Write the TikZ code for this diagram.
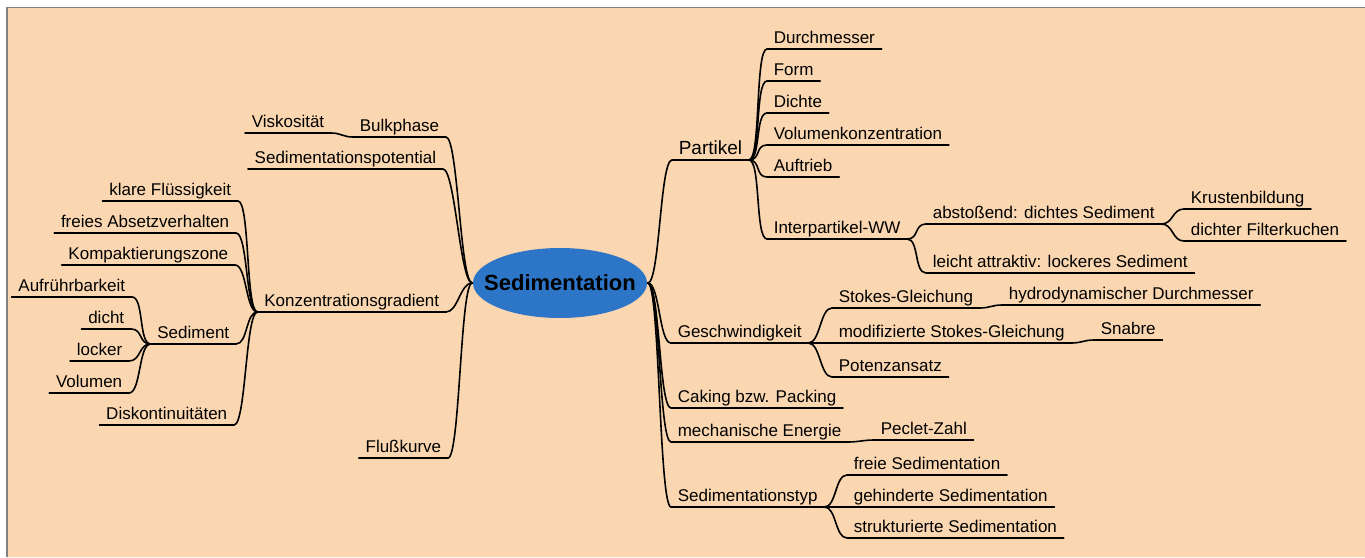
\documentclass[tikz,border=0pt]{standalone}
\usepackage{fontspec}
\setmainfont{Liberation Sans}
\usetikzlibrary{calc,shapes.geometric}

\definecolor{peach}{RGB}{250,215,176}
\definecolor{mapblue}{RGB}{45,117,198}

\tikzset{
  topic/.style={inner xsep=6pt, inner ysep=4.5pt, text depth=0pt, font=\fontsize{17}{20}\selectfont},
  rtopic/.style={topic, anchor=south west},
  ltopic/.style={topic, anchor=south east},
  link/.style={to path={.. controls ($(\tikztostart)+(#1,0)$) and ($(\tikztotarget)-(#1,0)$) .. (\tikztotarget)}},
  link/.default=12
}

\begin{document}
\begin{tikzpicture}[x=1pt, y=-1pt, line width=1.6pt, line cap=round]
  \useasboundingbox (0,0) rectangle (1365,557);
  \fill[peach] (7,8) rectangle (1365,557);
  \draw[gray, line width=1.5pt, line cap=butt] (7,557) -- (7,7.5) -- (1365,7.5);

  \node[ellipse, fill=mapblue, minimum width=174pt, minimum height=70pt, inner xsep=-20pt, inner ysep=0pt,
        font=\bfseries\fontsize{22}{26}\selectfont] (root) at (560,283) {Sedimentation};

  % left: Bulkphase etc.
  \node[ltopic] (bulk) at (446,137) {Bulkphase};
  \node[ltopic] (visk) at (331,133) {Viskosität};
  \node[ltopic] (potential) at (443,169) {Sedimentationspotential};
  \node[ltopic] (gradient) at (446,312) {Konzentrationsgradient};
  \node[ltopic] (fluss) at (448,458) {Flußkurve};

  % Konzentrationsgradient
  \node[ltopic] (klar) at (238,201) {klare Flüssigkeit};
  \node[ltopic] (frei) at (236,233) {freies Absetzverhalten};
  \node[ltopic] (kompakt) at (235,265) {Kompaktierungszone};
  \node[ltopic] (sediment) at (236,344) {Sediment};
  \node[ltopic] (diskont) at (234,425) {Diskontinuitäten};

  % Sediment
  \node[ltopic] (aufruehr) at (132,297) {Aufrührbarkeit};
  \node[ltopic] (dicht) at (131,329) {dicht};
  \node[ltopic] (locker) at (129,361) {locker};
  \node[ltopic] (volumen) at (129,393) {Volumen};

  % Partikel
  \node[rtopic, font=\fontsize{19}{22}\selectfont] (partikel) at (672,160) {Partikel};
  \node[rtopic] (durch) at (767,49) {Durchmesser};
  \node[rtopic] (form) at (767,81) {Form};
  \node[rtopic] (dichte) at (767,113) {Dichte};
  \node[rtopic] (volkonz) at (767,145) {Volumenkonzentration};
  \node[rtopic] (auftrieb) at (767,177) {Auftrieb};
  \node[rtopic] (interww) at (767,239) {Interpartikel-WW};
  \node[rtopic] (abstoss) at (926,224) {abstoßend: dichtes Sediment};
  \node[rtopic] (leicht) at (926,273) {leicht attraktiv: lockeres Sediment};
  \node[rtopic] (kruste) at (1184,209) {Krustenbildung};
  \node[rtopic] (filter) at (1184,241) {dichter Filterkuchen};

  % Geschwindigkeit
  \node[rtopic] (geschw) at (671,343) {Geschwindigkeit};
  \node[rtopic] (stokes) at (832,308) {Stokes-Gleichung};
  \node[rtopic] (hydro) at (1002,305) {hydrodynamischer Durchmesser};
  \node[rtopic] (modstokes) at (832,343) {modifizierte Stokes-Gleichung};
  \node[rtopic] (snabre) at (1094,340) {Snabre};
  \node[rtopic] (potenz) at (832,377) {Potenzansatz};

  % rest
  \node[rtopic] (caking) at (671,408) {Caking bzw. Packing};
  \node[rtopic] (mechanik) at (671,442) {mechanische Energie};
  \node[rtopic] (peclet) at (874,440) {Peclet-Zahl};
  \node[rtopic] (typ) at (671,507) {Sedimentationstyp};
  \node[rtopic] (freised) at (847,475) {freie Sedimentation};
  \node[rtopic] (gehindert) at (847,507) {gehinderte Sedimentation};
  \node[rtopic] (struktur) at (847,538) {strukturierte Sedimentation};

  % underlines
  \foreach \n in {bulk, visk, potential, gradient, fluss, klar, frei, kompakt, sediment, diskont,
      aufruehr, dicht, locker, volumen, partikel, durch, form, dichte, volkonz, auftrieb, interww,
      abstoss, leicht, kruste, filter, geschw, stokes, hydro, modstokes, snabre, potenz,
      caking, mechanik, peclet, typ, freised, gehindert, struktur}
    \draw (\n.south west) -- (\n.south east);

  % branches left
  \foreach \n in {bulk, potential, gradient, fluss}
    \draw (root.west) to[link=-12] (\n.south east);
  \draw (bulk.south west) to[link=-10] (visk.south east);
  \foreach \n in {klar, frei, kompakt, sediment, diskont}
    \draw (gradient.south west) to[link=-12] (\n.south east);
  \foreach \n in {aufruehr, dicht, locker, volumen}
    \draw (sediment.south west) to[link=-12] (\n.south east);

  % branches right
  \foreach \n in {partikel, geschw, caking, mechanik, typ}
    \draw (root.east) to[link] (\n.south west);
  \foreach \n in {durch, form, dichte, volkonz, auftrieb, interww}
    \draw (partikel.south east) to[link] (\n.south west);
  \foreach \n in {abstoss, leicht}
    \draw (interww.south east) to[link] (\n.south west);
  \foreach \n in {kruste, filter}
    \draw (abstoss.south east) to[link] (\n.south west);
  \foreach \n in {stokes, modstokes, potenz}
    \draw (geschw.south east) to[link] (\n.south west);
  \draw (stokes.south east) to[link=10] (hydro.south west);
  \draw (modstokes.south east) to[link=10] (snabre.south west);
  \draw (mechanik.south east) to[link=10] (peclet.south west);
  \foreach \n in {freised, gehindert, struktur}
    \draw (typ.south east) to[link] (\n.south west);
\end{tikzpicture}
\end{document}
